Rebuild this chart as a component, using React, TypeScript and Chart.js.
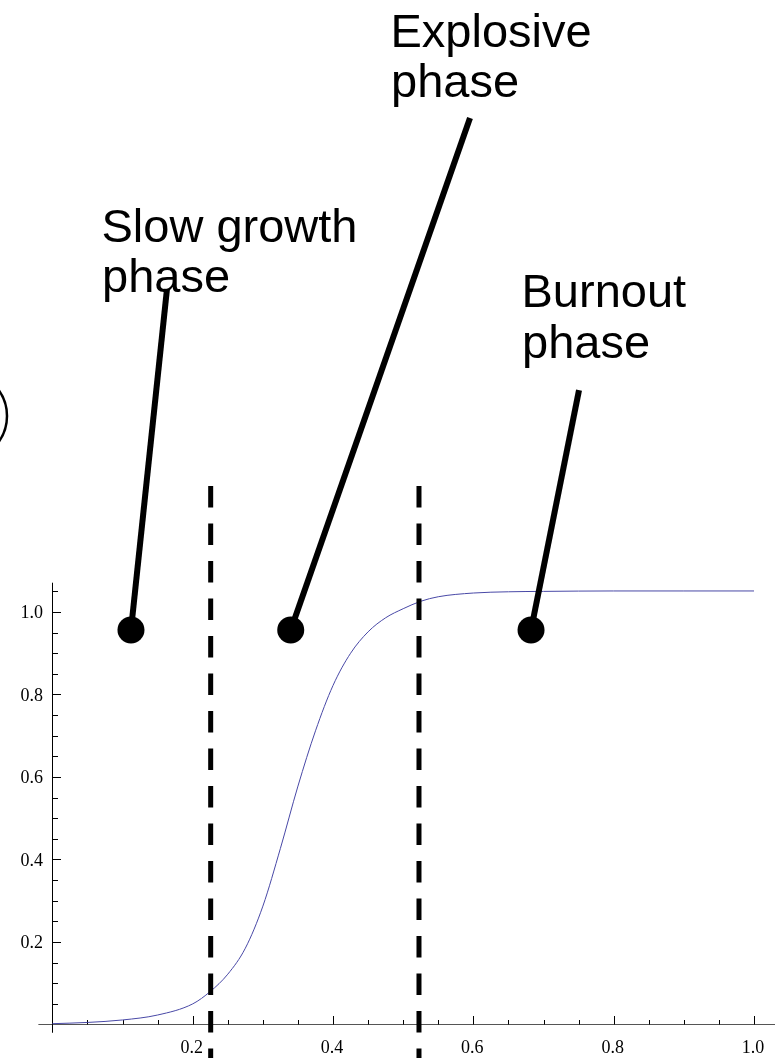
import React, { useEffect, useRef } from "react";
import { Chart, registerables } from "chart.js";

Chart.register(...registerables);

// Logistic-like growth curve
const curveX = [0, 0.05, 0.1, 0.15, 0.2, 0.225, 0.25, 0.275, 0.3, 0.325, 0.35, 0.375, 0.4, 0.425, 0.45, 0.475, 0.5, 0.525, 0.55, 0.6, 0.65, 0.7, 0.8, 0.9, 1.0];
const curveY = [0.002, 0.005, 0.011, 0.023, 0.05, 0.08, 0.122, 0.185, 0.287, 0.427, 0.578, 0.712, 0.822, 0.9, 0.952, 0.986, 1.008, 1.026, 1.037, 1.046, 1.049, 1.05, 1.051, 1.051, 1.051];

// Phase dividers (vertical dashed lines)
const dividerX = [0.2256, 0.5225];
const dividerTopY = 1.3055;
const dividerBottomY = -0.1;

// Phase labels and their pointer dots
const phaseTitles = ["Slow growth", "Explosive", "Burnout"];
const phaseSubtitles = ["phase", "phase", "phase"];
const phaseDotX = [0.112, 0.3397, 0.6822];
const phaseDotY = [0.9564, 0.9564, 0.9564];
const pointerTopX = [0.1633, 0.5952, 0.7506];
const pointerTopY = [1.783, 2.1976, 1.538];

// Axis ticks
const xMajorTicks = [0.2, 0.4, 0.6, 0.8, 1.0];
const xMinorTicks = [0.05, 0.1, 0.15, 0.25, 0.3, 0.35, 0.45, 0.5, 0.55, 0.65, 0.7, 0.75, 0.85, 0.9, 0.95];
const yMajorTicks = [0.2, 0.4, 0.6, 0.8, 1.0];
const yMinorTicks = [0.05, 0.1, 0.15, 0.25, 0.3, 0.35, 0.45, 0.5, 0.55, 0.65, 0.7, 0.75, 0.85, 0.9, 0.95, 1.05];

const W = 775;
const H = 1058;

const axesPlugin = {
  id: "mathAxes",
  beforeDatasetsDraw(chart: any) {
    const { ctx } = chart;
    const xs = chart.scales.x;
    const ys = chart.scales.y;
    const x0 = Math.round(xs.getPixelForValue(0)) + 0.5;
    const y0 = ys.getPixelForValue(0);
    ctx.save();
    // x axis
    ctx.strokeStyle = "#555";
    ctx.lineWidth = 1.2;
    ctx.beginPath();
    ctx.moveTo(xs.getPixelForValue(-0.02), y0);
    ctx.lineTo(xs.getPixelForValue(1.03), y0);
    ctx.stroke();
    // y axis
    ctx.strokeStyle = "#000";
    ctx.lineWidth = 1;
    ctx.beginPath();
    ctx.moveTo(x0, ys.getPixelForValue(-0.02));
    ctx.lineTo(x0, ys.getPixelForValue(1.071));
    ctx.stroke();
    // y ticks
    ctx.strokeStyle = "#000";
    const tickY = (v: number, len: number) => {
      const p = Math.round(ys.getPixelForValue(v)) + 0.5;
      ctx.beginPath();
      ctx.moveTo(x0, p);
      ctx.lineTo(x0 + len, p);
      ctx.stroke();
    };
    yMajorTicks.forEach((v) => tickY(v, 8.5));
    yMinorTicks.forEach((v) => tickY(v, 5.5));
    const tickX = (v: number, len: number) => {
      const p = Math.round(xs.getPixelForValue(v)) + 0.5;
      ctx.beginPath();
      ctx.moveTo(p, y0);
      ctx.lineTo(p, y0 - len);
      ctx.stroke();
    };
    xMajorTicks.forEach((v) => tickX(v, 8.5));
    xMinorTicks.forEach((v) => tickX(v, 4.5));
    // labels
    ctx.fillStyle = "#000";
    ctx.font = "18px 'Liberation Serif', 'Times New Roman', serif";
    ctx.textAlign = "right";
    ctx.textBaseline = "middle";
    yMajorTicks.forEach((v) => {
      ctx.fillText(v.toFixed(1), x0 - 9.5, ys.getPixelForValue(v) + 1.5);
    });
    ctx.textAlign = "center";
    ctx.textBaseline = "top";
    xMajorTicks.forEach((v) => {
      ctx.fillText(v.toFixed(1), xs.getPixelForValue(v) - 1, y0 + 15);
    });
    ctx.restore();
  },
  afterDraw(chart: any) {
    const { ctx } = chart;
    ctx.save();
    ctx.fillStyle = "#000";
    ctx.font = "47px 'Liberation Sans', Arial, sans-serif";
    ctx.textAlign = "left";
    ctx.textBaseline = "alphabetic";
    const labelPos = [
      [101.5, 241.5, 292],
      [390.5, 46.5, 96.5],
      [521.5, 306.5, 358],
    ];
    phaseTitles.forEach((t, i) => {
      const [lx, b1, b2] = labelPos[i];
      ctx.fillText(t, lx, b1);
      ctx.fillText(phaseSubtitles[i], lx + 0.5, b2);
    });
    // partial outline at left edge
    ctx.strokeStyle = "#000";
    ctx.lineWidth = 2.5;
    ctx.beginPath();
    ctx.arc(-37.6, 416, 44.6, -0.7, 0.7);
    ctx.stroke();
    ctx.restore();
  },
};

export default function App() {
  const ref = useRef<HTMLCanvasElement | null>(null);
  useEffect(() => {
    document.body.style.margin = "0";
    const canvas = ref.current;
    if (!canvas) return;
    const xMin = -52.4 / 701.6;
    const xMax = (W - 52.4) / 701.6;
    const yMax = 1024.5 / 412.5;
    const yMin = -(H - 1024.5) / 412.5;

    const datasets: any[] = [];
    datasets.push({
      label: "dots",
      data: phaseDotX.map((x, i) => ({ x, y: phaseDotY[i] })),
      pointRadius: 13.5,
      pointBackgroundColor: "#000",
      pointBorderWidth: 0,
      showLine: false,
      order: 0,
    });
    phaseDotX.forEach((x, i) => {
      datasets.push({
        label: "pointer" + i,
        data: [
          { x, y: phaseDotY[i] },
          { x: pointerTopX[i], y: pointerTopY[i] },
        ],
        showLine: true,
        borderColor: "#000",
        borderWidth: 6,
        pointRadius: 0,
        order: 1,
      });
    });
    dividerX.forEach((x, i) => {
      datasets.push({
        label: "divider" + i,
        data: [
          { x, y: dividerTopY },
          { x, y: dividerBottomY },
        ],
        showLine: true,
        borderColor: "#000",
        borderWidth: 5,
        borderDash: [21.5, 16],
        pointRadius: 0,
        order: 2,
      });
    });
    datasets.push({
      label: "curve",
      data: curveX.map((x, i) => ({ x, y: curveY[i] })),
      showLine: true,
      borderColor: "#4848a6",
      borderWidth: 1,
      pointRadius: 0,
      cubicInterpolationMode: "monotone",
      order: 3,
    });

    const chart = new Chart(canvas, {
      type: "scatter",
      data: { datasets },
      options: {
        animation: false,
        responsive: false,
        devicePixelRatio: 1,
        layout: { padding: 0, autoPadding: false },
        plugins: { legend: { display: false }, tooltip: { enabled: false } },
        scales: {
          x: { type: "linear", min: xMin, max: xMax, display: false, bounds: "data" },
          y: { type: "linear", min: yMin, max: yMax, display: false, bounds: "data" },
        },
      },
      plugins: [axesPlugin],
    });
    return () => chart.destroy();
  }, []);
  return (
    <canvas ref={ref} width={W} height={H} style={{ display: "block", width: W, height: H }} />
  );
}
